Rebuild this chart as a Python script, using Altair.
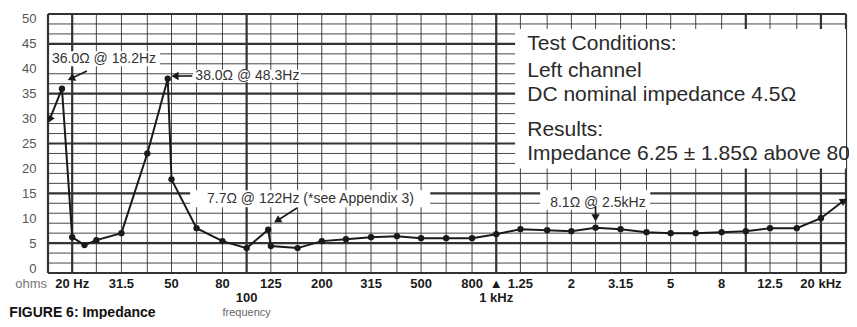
import altair as alt
import pandas as pd

# ---------------- data ----------------
freq = [16.3, 18.2, 20, 22.4, 25, 31.5, 40, 48.3, 50, 63, 80, 100, 122, 125, 160, 200, 250,
        315, 400, 500, 630, 800, 1000, 1250, 1600, 2000, 2500, 3150, 4000, 5000, 6300, 8000,
        10000, 12500, 16000, 20000, 24500]
ohms = [30, 36, 6.2, 4.6, 5.6, 7.0, 23, 38, 17.8, 8.0, 5.4, 4.0, 7.7, 4.4, 4.0, 5.4, 5.8,
        6.2, 6.4, 6.0, 6.0, 6.0, 6.8, 7.8, 7.6, 7.4, 8.1, 7.8, 7.2, 7.0, 7.0, 7.2,
        7.4, 8.0, 8.0, 10.0, 13.4]

v_grid = [16, 20, 25, 31.5, 40, 50, 63, 80, 100, 125, 160, 200, 250, 315, 400, 500, 630, 800,
          1000, 1250, 1600, 2000, 2500, 3150, 4000, 5000, 6300, 8000, 10000, 12500, 16000,
          20000, 25200]
v_major = [16, 20, 100, 1000, 10000, 20000, 25200]
h_grid = list(range(-1, 52, 2))
h_major = [-1, 5, 15, 25, 35, 45, 51]

y_ticks = list(range(0, 51, 5))

xl_freq = [20, 31.5, 50, 80, 100, 125, 200, 315, 500, 800, 1000, 1000, 1250, 2000, 3150,
           5000, 8000, 12500, 20000]
xl_text = ["20 Hz", "31.5", "50", "80", "100", "125", "200", "315", "500", "800", "▲",
           "1 kHz", "1.25", "2", "3.15", "5", "8", "12.5", "20 kHz"]
xl_row = [0, 0, 0, 0, 1, 0, 0, 0, 0, 0, 0, 1, 0, 0, 0, 0, 0, 0, 0]

ann_text = ["36.0Ω @ 18.2Hz", "38.0Ω @ 48.3Hz", "7.7Ω @ 122Hz (*see Appendix 3)", "8.1Ω @ 2.5kHz"]
ann_x = [16.6, 62.3, 69.4, 1645]
ann_y = [42.0, 38.55, 13.86, 13.1]

# annotation boxes (white background behind labels)
box_x0 = [16.2, 61, 59.4, 1500, 1190]
box_x1 = [45, 165, 544, 4143, 25200]
box_y0 = [40.5, 37.3, 12.2, 11.7, 20]
box_y1 = [43.5, 39.8, 15.6, 15.6, 48]

# annotation arrows
arr_x0 = [22.9, 60.5, 159.2, 2500]
arr_y0 = [39.56, 38.55, 12.05, 12.45]
arr_x1 = [20.0, 52.2, 133.8, 2500]
arr_y1 = [38.15, 38.55, 9.64, 10.6]
# arrowheads (annotations + ends of curve)
head_x = [20.0, 52.2, 133.8, 2500, 16.3, 24500]
head_y = [38.15, 38.55, 9.64, 10.3, 30, 13.4]
head_a = [245, 270, 238, 180, 207, 58]

block_lines = ["Test Conditions:", "Left channel", "DC nominal impedance 4.5Ω", "Results:",
               "Impedance 6.25  ± 1.85Ω above 80"]
block_y = [43.77, 38.35, 33.53, 26.51, 21.69]
block_x = 1331

# ---------------- chart ----------------
FONT = "Liberation Sans"
xs = alt.Scale(type="log", domain=[16, 25200], nice=False)
ys = alt.Scale(domain=[-1, 51], nice=False, zero=False)
yaxis = alt.Axis(values=y_ticks, ticks=False, tickSize=0, domain=False, grid=False,
                 labelColor="#555", labelFontSize=13, labelFont=FONT, labelPadding=12,
                 title=None)


def X(f):
    return alt.X(f, type="quantitative", scale=xs, axis=None)


def Y(f):
    return alt.Y(f, type="quantitative", scale=ys, axis=yaxis)


vdf = pd.DataFrame({"f": v_grid, "w": [2.2 if v in v_major else 0.9 for v in v_grid]})
hdf = pd.DataFrame({"v": h_grid, "w": [2.2 if v in h_major else 0.9 for v in h_grid]})

vgrid = alt.Chart(vdf).mark_rule(color="#333").encode(
    x=X("f"), strokeWidth=alt.StrokeWidth("w:Q", scale=None))
hgrid = alt.Chart(hdf).mark_rule(color="#333").encode(
    y=Y("v"), strokeWidth=alt.StrokeWidth("w:Q", scale=None))

bdf = pd.DataFrame({"x0": box_x0, "x1": box_x1, "y0": box_y0, "y1": box_y1})
boxes = alt.Chart(bdf).mark_rect(color="white").encode(
    x=X("x0"), x2="x1:Q", y=Y("y0"), y2="y1:Q")

cdf = pd.DataFrame({"f": freq, "o": ohms})
curve = alt.Chart(cdf).mark_line(color="#1a1a1a", strokeWidth=2).encode(x=X("f"), y=Y("o"))
pts = alt.Chart(cdf.iloc[1:-1]).mark_circle(color="#1a1a1a", size=40, opacity=1).encode(
    x=X("f"), y=Y("o"))

adf = pd.DataFrame({"x0": arr_x0, "x1": arr_x1, "y0": arr_y0, "y1": arr_y1})
arrows = alt.Chart(adf).mark_rule(color="#1a1a1a", strokeWidth=1.6).encode(
    x=X("x0"), x2="x1:Q", y=Y("y0"), y2="y1:Q")
hdf2 = pd.DataFrame({"x": head_x, "y": head_y, "a": head_a})
heads = alt.Chart(hdf2).mark_point(shape="triangle", filled=True, color="#1a1a1a",
                                   size=70, opacity=1).encode(
    x=X("x"), y=Y("y"), angle=alt.Angle("a:Q", scale=None))

andf = pd.DataFrame({"x": ann_x, "y": ann_y, "t": ann_text})
ann = alt.Chart(andf).mark_text(align="left", baseline="middle", font=FONT, fontSize=14,
                                color="#333").encode(x=X("x"), y=Y("y"), text="t:N")

bldf = pd.DataFrame({"y": block_y, "t": block_lines, "x": [block_x] * len(block_lines)})
block = alt.Chart(bldf).mark_text(align="left", baseline="alphabetic", font=FONT,
                                  fontSize=21, color="#2a2a2a").encode(
    x=X("x"), y=Y("y"), text="t:N")

row_y = {0: -3.2, 1: -6.0}
xldf = pd.DataFrame({"f": xl_freq, "t": xl_text, "y": [row_y[r] for r in xl_row]})
xlab = alt.Chart(xldf).mark_text(align="center", baseline="middle", font=FONT, fontSize=13,
                                 fontWeight="bold", color="#1a1a1a").encode(
    x=X("f"), y=Y("y"), text="t:N")

odf = pd.DataFrame({"f": [13.7], "y": [-3.2], "t": ["ohms"]})
ohm_lab = alt.Chart(odf).mark_text(align="center", baseline="middle", font=FONT, fontSize=13,
                                   color="#777").encode(x=X("f"), y=Y("y"), text="t:N")
fdf = pd.DataFrame({"f": [100], "y": [-9.1], "t": ["frequency"]})
freq_lab = alt.Chart(fdf).mark_text(align="center", baseline="middle", font=FONT, fontSize=11,
                                    color="#666").encode(x=X("f"), y=Y("y"), text="t:N")
gdf = pd.DataFrame({"f": [11.2], "y": [-9.9], "t": ["FIGURE 6: Impedance"]})
fig_lab = alt.Chart(gdf).mark_text(align="left", baseline="alphabetic", font=FONT, fontSize=14,
                                   fontWeight="bold", color="#111").encode(
    x=X("f"), y=Y("y"), text="t:N")

chart = alt.layer(vgrid, hgrid, boxes, curve, pts, arrows, heads, ann, block, xlab,
                  ohm_lab, freq_lab, fig_lab).properties(
    width=798, height=259,
    autosize=alt.AutoSizeParams(type="none"),
    padding={"left": 40, "top": 6, "right": 3, "bottom": 46},
    background="white",
).configure_view(stroke=None)

chart.save("out.html", embed_options={"renderer": "svg", "actions": False})
